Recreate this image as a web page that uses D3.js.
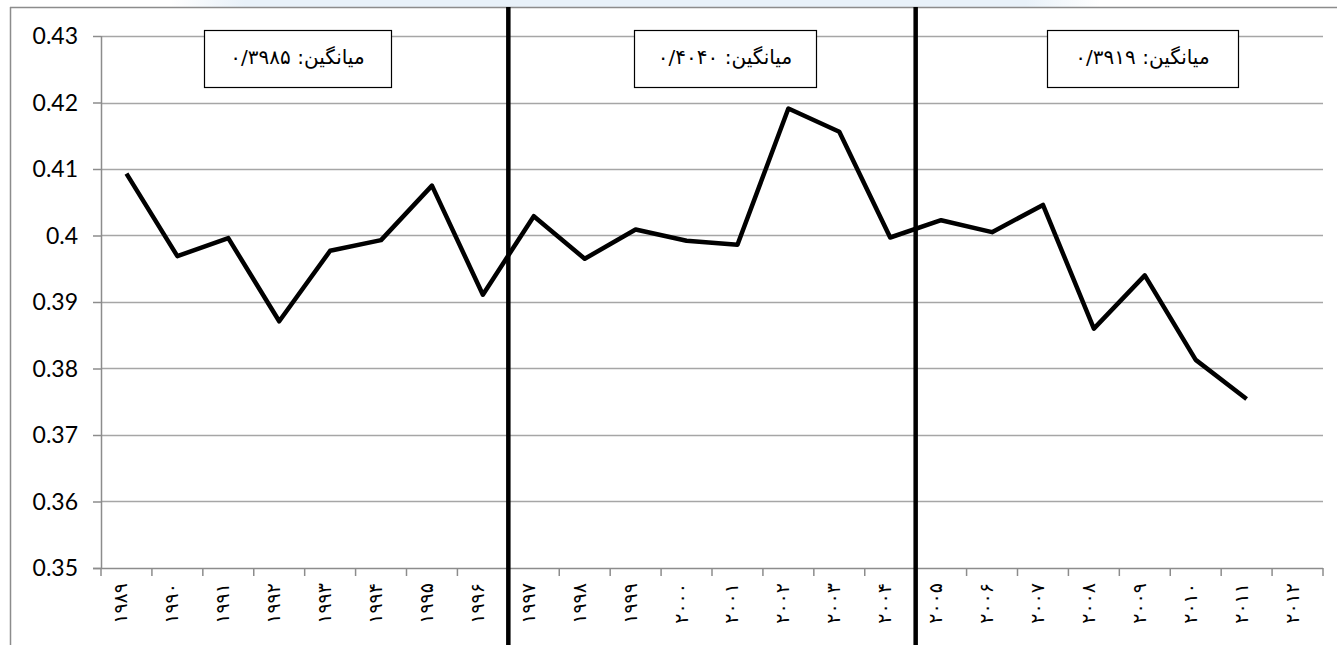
<!DOCTYPE html>
<html>
<head>
<meta charset="utf-8">
<script src="https://cdn.jsdelivr.net/npm/d3@7"></script>
<style>
  html, body { margin: 0; padding: 0; background: #fff; }
  svg { display: block; }
</style>
</head>
<body>
<svg id="chart" width="1337" height="645"></svg>
<script>
// ---- data ----
const years = ["۱۹۸۹","۱۹۹۰","۱۹۹۱","۱۹۹۲","۱۹۹۳","۱۹۹۴","۱۹۹۵","۱۹۹۶",
               "۱۹۹۷","۱۹۹۸","۱۹۹۹","۲۰۰۰","۲۰۰۱","۲۰۰۲","۲۰۰۳","۲۰۰۴",
               "۲۰۰۵","۲۰۰۶","۲۰۰۷","۲۰۰۸","۲۰۰۹","۲۰۱۰","۲۰۱۱","۲۰۱۲"];
const values = [0.4093, 0.3969, 0.3996, 0.3871, 0.3977, 0.3993, 0.4075, 0.3911,
                0.4029, 0.3965, 0.4009, 0.3992, 0.3986, 0.4191, 0.4156, 0.3997,
                0.4023, 0.4005, 0.4046, 0.3860, 0.3940, 0.3813, 0.3754, null];
const yTicks = [0.35, 0.36, 0.37, 0.38, 0.39, 0.40, 0.41, 0.42, 0.43];
const yTickLabels = ["0.35","0.36","0.37","0.38","0.39","0.4","0.41","0.42","0.43"];
const periodBreaks = ["۱۹۹۷", "۲۰۰۵"];          // first year of periods 2 and 3
const meanPrefix = "میانگین: ";
const periodMeans = ["۰/۳۹۸۵", "۰/۴۰۴۰", "۰/۳۹۱۹"];

// ---- layout ----
const svg = d3.select("#chart");
const pLeft = 101, pRight = 1323, pTop = 36, pBottom = 568;
const grey = "#8c8c8c";

const x = d3.scaleBand().domain(years).range([pLeft, pRight]).padding(0);
const y = d3.scaleLinear().domain([0.35, 0.43]).range([pBottom, pTop]);

// light top band
const defs = svg.append("defs");
const grad = defs.append("linearGradient").attr("id", "band");
grad.append("stop").attr("offset", "0%").attr("stop-color", "#e8f1f9").attr("stop-opacity", 0);
grad.append("stop").attr("offset", "8%").attr("stop-color", "#e8f1f9").attr("stop-opacity", 1);
grad.append("stop").attr("offset", "92%").attr("stop-color", "#e8f1f9").attr("stop-opacity", 1);
grad.append("stop").attr("offset", "100%").attr("stop-color", "#e8f1f9").attr("stop-opacity", 0);
svg.append("rect").attr("x", 170).attr("y", 0).attr("width", 930).attr("height", 7).attr("fill", "url(#band)");

// outer frame
svg.append("line").attr("x1", 10).attr("x2", 1337).attr("y1", 7.5).attr("y2", 7.5)
  .attr("stroke", grey).attr("stroke-width", 1.5);
svg.append("line").attr("x1", 10.5).attr("x2", 10.5).attr("y1", 7).attr("y2", 645)
  .attr("stroke", grey).attr("stroke-width", 1.5);

// gridlines
svg.append("g").selectAll("line").data(yTicks.slice(1)).join("line")
  .attr("x1", pLeft).attr("x2", pRight)
  .attr("y1", d => Math.round(y(d)) + 0.5).attr("y2", d => Math.round(y(d)) + 0.5)
  .attr("stroke", "#a6a6a6").attr("stroke-width", 1.5);

// y axis
const yAxis = d3.axisLeft(y).tickValues(yTicks)
  .tickFormat((d, i) => yTickLabels[i]).tickSize(8).tickPadding(15);
const gy = svg.append("g").attr("transform", `translate(${pLeft},0)`).call(yAxis);
gy.select(".domain").attr("stroke", grey).attr("stroke-width", 1.5).attr("d", `M0.5,${pTop}V${pBottom}`);
gy.selectAll(".tick line").attr("stroke", grey).attr("stroke-width", 1.5);
gy.selectAll(".tick text").attr("font-family", "Lato, 'Open Sans', sans-serif")
  .attr("font-size", 23).attr("fill", "#000").attr("dy", "0.34em");

// x axis
const xAxis = d3.axisBottom(x).tickSize(0).tickFormat("");
const gx = svg.append("g").attr("transform", `translate(0,${pBottom})`).call(xAxis);
gx.select(".domain").attr("stroke", grey).attr("stroke-width", 1.5).attr("d", `M${pLeft - 8},0.5H${pRight}`);
// tick marks at category boundaries
const bounds = years.map(d => x(d)).concat([x(years[years.length - 1]) + x.bandwidth()]);
gx.append("g").selectAll("line").data(bounds).join("line")
  .attr("x1", d => d).attr("x2", d => d).attr("y1", 0).attr("y2", 8)
  .attr("stroke", grey).attr("stroke-width", 1.5);
// rotated labels
gx.append("g").selectAll("text").data(years).join("text")
  .attr("transform", d => `translate(${x(d) + x.bandwidth() / 2 + 1},15) rotate(-90)`)
  .attr("text-anchor", "end")
  .attr("font-family", "'DejaVu Sans', sans-serif")
  .attr("font-size", 19)
  .attr("fill", "#000")
  .text(d => d);

// data line
const line = d3.line()
  .defined(d => d != null)
  .x((d, i) => x(years[i]) + x.bandwidth() / 2)
  .y(d => y(d));
svg.append("path").datum(values)
  .attr("d", line)
  .attr("fill", "none").attr("stroke", "#000").attr("stroke-width", 4.5)
  .attr("stroke-linejoin", "round");

// period separators
svg.append("g").selectAll("line").data(periodBreaks).join("line")
  .attr("x1", d => x(d)).attr("x2", d => x(d))
  .attr("y1", 7).attr("y2", 645)
  .attr("stroke", "#000").attr("stroke-width", 4.5);

// mean boxes
const boxes = [
  { x0: 204, x1: 391 },
  { x0: 634, x1: 816 },
  { x0: 1047, x1: 1238 }
];
const gb = svg.append("g");
periodMeans.forEach((m, i) => {
  const b = boxes[i];
  gb.append("rect").attr("x", b.x0 + 0.5).attr("y", 30.5)
    .attr("width", b.x1 - b.x0).attr("height", 57)
    .attr("fill", "#fff").attr("stroke", "#000").attr("stroke-width", 1.2);
  gb.append("text")
    .attr("x", (b.x0 + b.x1) / 2).attr("y", 64)
    .attr("text-anchor", "middle")
    .attr("direction", "rtl")
    .attr("font-family", "'DejaVu Sans', sans-serif")
    .attr("font-size", 20)
    .attr("fill", "#000")
    .text(meanPrefix + m);
});
</script>
</body>
</html>
